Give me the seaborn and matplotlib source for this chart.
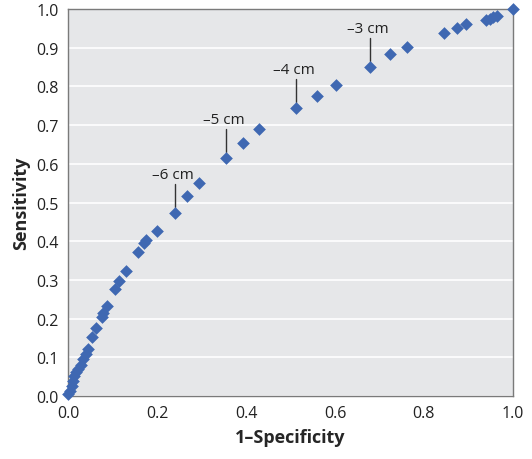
import matplotlib
matplotlib.use("Agg")
import matplotlib.pyplot as plt
import seaborn as sns
import pandas as pd

# ROC points
fpr = [0.0, 0.004, 0.009, 0.011, 0.013, 0.018, 0.023, 0.029, 0.034, 0.040,
       0.045, 0.054, 0.063, 0.076, 0.079, 0.088, 0.106, 0.115, 0.130, 0.157,
       0.170, 0.175, 0.200, 0.240, 0.267, 0.294, 0.355, 0.393, 0.429, 0.512,
       0.560, 0.602, 0.679, 0.724, 0.762, 0.845, 0.874, 0.894, 0.939, 0.948,
       0.955, 0.964, 1.0]
tpr = [0.005, 0.013, 0.026, 0.039, 0.052, 0.062, 0.070, 0.080, 0.096, 0.108,
       0.121, 0.152, 0.175, 0.204, 0.214, 0.232, 0.276, 0.297, 0.323, 0.372,
       0.395, 0.403, 0.426, 0.473, 0.517, 0.550, 0.615, 0.654, 0.690, 0.744,
       0.775, 0.804, 0.850, 0.884, 0.902, 0.938, 0.951, 0.961, 0.972, 0.974,
       0.979, 0.982, 1.0]

# cut-off labels and the points they mark
cut_labels = ["\u20136 cm", "\u20135 cm", "\u20134 cm", "\u20133 cm"]
cut_x = [0.240, 0.355, 0.512, 0.679]
cut_y = [0.473, 0.615, 0.744, 0.850]

ticks = [0.0, 0.2, 0.4, 0.6, 0.8, 1.0]
yticks = [0.0, 0.1, 0.2, 0.3, 0.4, 0.5, 0.6, 0.7, 0.8, 0.9, 1.0]

df = pd.DataFrame({"fpr": fpr, "tpr": tpr})

sns.set_style("whitegrid")
plt.rcParams["font.family"] = ["Open Sans", "DejaVu Sans"]

fig = plt.figure(figsize=(5.32, 4.60), dpi=100)
ax = fig.add_axes([0.128, 0.137, 0.836, 0.841])
ax.set_facecolor("#e6e7e9")

sns.scatterplot(data=df, x="fpr", y="tpr", marker="D", s=42, color="#3f68b2",
                edgecolor="#3f68b2", linewidth=0, ax=ax, clip_on=False, zorder=3)

# label text above, plain vertical leader line down to the point
for lab, x, y in zip(cut_labels, cut_x, cut_y):
    ax.plot([x, x], [y + 0.016, y + 0.075], color="#333333", lw=1.0, zorder=2)
    ax.text(x - 0.005, y + 0.08, lab, ha="center", va="bottom",
            fontsize=11, color="#222222")

ax.set_xlim(0, 1)
ax.set_ylim(0, 1)
ax.set_xticks(ticks)
ax.set_yticks(yticks)
ax.set_xticklabels([f"{t:.1f}" for t in ticks])
ax.set_yticklabels([f"{t:.1f}" for t in yticks])
ax.grid(axis="x", visible=False)
ax.grid(axis="y", color="white", linewidth=1.2)
ax.set_axisbelow(True)
for sp in ax.spines.values():
    sp.set_color("#7a7a7a")
    sp.set_linewidth(1.0)
ax.tick_params(axis="both", direction="out", length=5, width=1, color="#7a7a7a",
               labelsize=11.5, labelcolor="#222222", pad=1.5)

ax.set_xlabel("1\u2013Specificity", fontsize=13, fontweight="bold", labelpad=5)
ax.set_ylabel("Sensitivity", fontsize=13, fontweight="bold", labelpad=5)

fig.savefig("out.png", dpi=100)
